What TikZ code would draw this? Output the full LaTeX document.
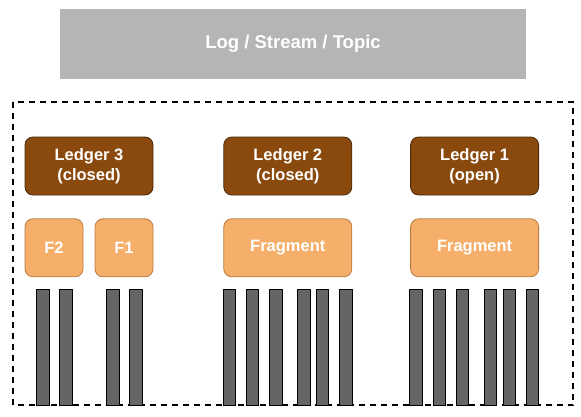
\documentclass[tikz,border=0pt]{standalone}
\usepackage{fontspec}
\setmainfont{Liberation Sans}
\usetikzlibrary{positioning}
\definecolor{topicgray}{HTML}{B4B6B5}
\definecolor{ledgerbrown}{HTML}{8A4A0E}
\definecolor{ledgerline}{HTML}{4A2A0A}
\definecolor{fragorange}{HTML}{F5AF6A}
\definecolor{fragline}{HTML}{B97A3E}
\definecolor{bargray}{HTML}{656565}

\begin{document}
\begin{tikzpicture}[x=1pt, y=-1pt, font=\fontsize{16.5}{20}\selectfont\bfseries]
\tikzstyle{topic}=[rectangle, fill=topicgray, text=white, minimum width=466pt, minimum height=69.5pt, font=\fontsize{18.5}{22}\selectfont\bfseries]
\tikzstyle{ledger}=[rectangle, rounded corners=8pt, thick, draw=ledgerline, fill=ledgerbrown, text=white, align=center, minimum width=128pt, minimum height=58pt]
\tikzstyle{frag}=[rectangle, rounded corners=8pt, thick, draw=fragline, fill=fragorange, text=white, minimum height=58pt]
\tikzstyle{bar}=[rectangle, draw=black, fill=bargray, minimum width=12.5pt, minimum height=116pt, inner sep=0pt]
\tikzstyle{group}=[draw=black, line width=2pt, dash pattern=on 6pt off 5pt]
  \useasboundingbox (0,0) rectangle (581,416);
  \node[topic] (topic) at (293,44) {Log / Stream / Topic};
  \draw[group] (13,101.5) rectangle (573,405);
  \node[ledger] (l3) at (89,166) {Ledger 3\\(closed)};
  \node[ledger] (l2) [right =70pt of l3] {Ledger 2\\(closed)};
  \node[ledger] (l1) [right =58pt of l2] {Ledger 1\\(open)};
  \node[frag, minimum width=58pt] (f2) [below =23pt of l3.south west, anchor=north west] {F2};
  \node[frag, minimum width=58pt] (f1) [below =23pt of l3.south east, anchor=north east] {F1};
  \node[frag, minimum width=128pt] (fr2) [below =23pt of l2] {Fragment};
  \node[frag, minimum width=128pt] (fr1) [below =23pt of l1] {Fragment};
  \foreach \x [count=\i] in {42.5,65.5,112.5,135.5,229,252,275.5,303.5,322,345.5,415.5,439,462,490,509,532}
    \node[bar] (b\i) at (\x,347) {};
\end{tikzpicture}
\end{document}
